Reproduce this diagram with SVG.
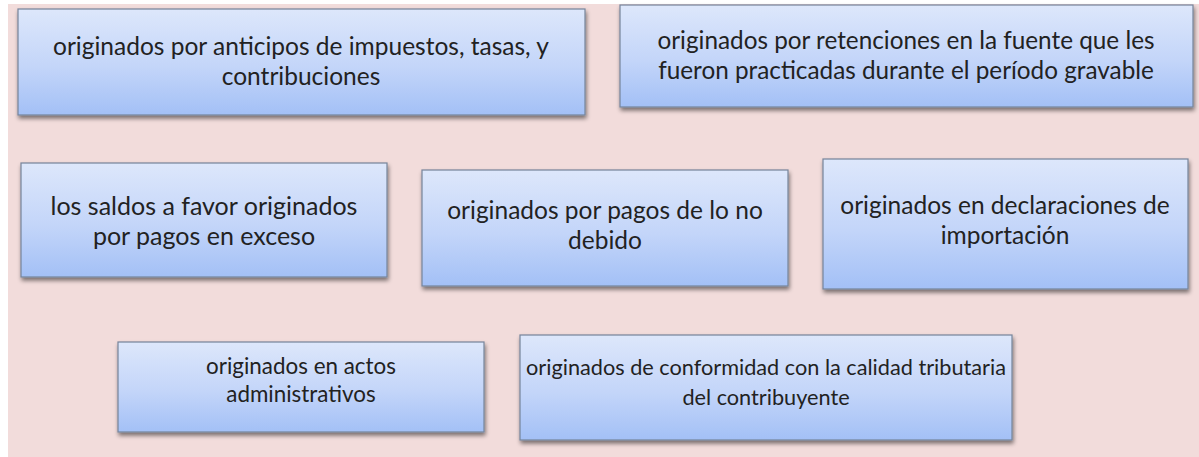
<svg xmlns="http://www.w3.org/2000/svg" width="1199" height="457" viewBox="0 0 1199 457">
<defs>
<linearGradient id="g" x1="0" y1="0" x2="0" y2="1">
<stop offset="0" stop-color="#dde7fb"/>
<stop offset="0.55" stop-color="#c3d5f9"/>
<stop offset="1" stop-color="#a3c0f6"/>
</linearGradient>
<filter id="sh" x="-5%" y="-10%" width="115%" height="130%">
<feGaussianBlur in="SourceAlpha" stdDeviation="2"/>
<feOffset dx="1" dy="3" result="b"/>
<feComponentTransfer><feFuncA type="linear" slope="0.5"/></feComponentTransfer>
<feMerge><feMergeNode/><feMergeNode in="SourceGraphic"/></feMerge>
</filter>
</defs>
<style>
.box{fill:url(#g);stroke:#76849a;stroke-width:1.2;filter:url(#sh)}
.t{font-family:Lato,"Liberation Sans",sans-serif;fill:#222222;text-anchor:middle}
</style>
<rect x="0" y="0" width="1199" height="457" fill="#ffffff"/>
<rect x="8" y="4" width="1191" height="453" fill="#f2dcdb"/>
<g id="connectors"/>
<g id="n1">
<rect class="box" x="18" y="9" width="567" height="106"/>
<text class="t" x="301" y="55" font-size="24.5">originados por anticipos de impuestos, tasas, y</text>
<text class="t" x="301" y="85" font-size="24.5">contribuciones</text>
</g>
<g id="n2">
<rect class="box" x="620" y="5" width="573" height="102"/>
<text class="t" x="906" y="49" font-size="24.3">originados por retenciones en la fuente que les</text>
<text class="t" x="906" y="79" font-size="24.3">fueron practicadas durante el período gravable</text>
</g>
<g id="n3">
<rect class="box" x="21" y="163" width="366" height="114"/>
<text class="t" x="204" y="215" font-size="25">los saldos a favor originados</text>
<text class="t" x="204" y="245" font-size="25">por pagos en exceso</text>
</g>
<g id="n4">
<rect class="box" x="422" y="170" width="366" height="116"/>
<text class="t" x="605" y="219" font-size="24.5">originados por pagos de lo no</text>
<text class="t" x="605" y="249" font-size="24.5">debido</text>
</g>
<g id="n5">
<rect class="box" x="823" y="159" width="365" height="130"/>
<text class="t" x="1005" y="214" font-size="24.5">originados en declaraciones de</text>
<text class="t" x="1005" y="244" font-size="24.5">importación</text>
</g>
<g id="n6">
<rect class="box" x="118" y="342" width="366" height="90"/>
<text class="t" x="301" y="374" font-size="22.4">originados en actos</text>
<text class="t" x="301" y="402" font-size="22.4">administrativos</text>
</g>
<g id="n7">
<rect class="box" x="520" y="335" width="492" height="105"/>
<text class="t" x="766" y="375" font-size="21.7">originados de conformidad con la calidad tributaria</text>
<text class="t" x="766" y="405" font-size="21.7">del contribuyente</text>
</g>
</svg>
